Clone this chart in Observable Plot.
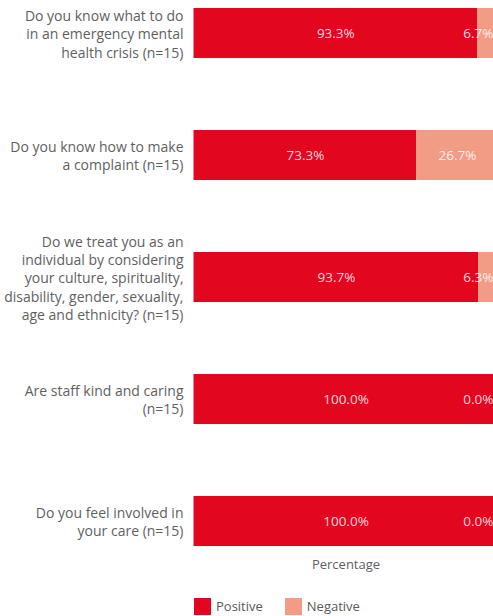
<!DOCTYPE html>
<html>
<head>
<meta charset="utf-8">
<script src="https://cdn.jsdelivr.net/npm/d3@7"></script>
<script src="https://cdn.jsdelivr.net/npm/@observablehq/plot@0.6"></script>
<style>
  body { margin: 0; background: #fff; font-family: "Open Sans", sans-serif; }
  #legend { display: flex; align-items: center; margin-left: 194px; margin-top: 13px; font-size: 13px; color: #595959; }
  .item { display: flex; align-items: center; margin-right: 22px; }
  .sw { width: 17px; height: 17px; margin-right: 5px; }
</style>
</head>
<body>
<div id="chart"></div>
<div id="legend"></div>
<script>
const questions = [
  "Do you know what to do\nin an emergency mental\nhealth crisis (n=15)",
  "Do you know how to make\na complaint (n=15)",
  "Do we treat you as an\nindividual by considering\nyour culture, spirituality,\ndisability, gender, sexuality,\nage and ethnicity? (n=15)",
  "Are staff kind and caring\n(n=15)",
  "Do you feel involved in\nyour care (n=15)"
];
const positive = [93.3, 73.3, 93.7, 100.0, 100.0];
const negative = [6.7, 26.7, 6.3, 0.0, 0.0];
const seriesNames = ["Positive", "Negative"];
const seriesColors = ["#E2061F", "#F29C85"];
const axisLabel = "Percentage";

const rows = [];
questions.forEach((q, i) => {
  rows.push({q, series: "Positive", value: positive[i], x1: 0, x2: positive[i]});
  rows.push({q, series: "Negative", value: negative[i], x1: positive[i], x2: positive[i] + negative[i]});
});
const labelsCentered = rows.filter(d => d.series === "Positive" || d.value >= 15);
const labelsEdge = rows.filter(d => d.series === "Negative" && d.value < 15);

const plot = Plot.plot({
  width: 493,
  height: 584,
  marginLeft: 193,
  marginRight: 0,
  marginTop: 8,
  marginBottom: 38,
  style: {fontFamily: "'Open Sans', sans-serif", fontSize: "13px", color: "#595959"},
  x: {domain: [0, 100], range: [193.5, 497.5], axis: null},
  y: {domain: questions, axis: null, paddingInner: 0.59, paddingOuter: 0, round: false},
  color: {domain: seriesNames, range: seriesColors},
  marks: [
    Plot.barX(rows, {y: "q", x1: "x1", x2: "x2", fill: "series"}),
    Plot.text(labelsCentered, {y: "q", x: d => (d.x1 + d.x2) / 2, text: d => d.value.toFixed(1) + "%", fill: "white", fillOpacity: 0.85, fontSize: 13.5}),
    Plot.text(labelsEdge, {y: "q", frameAnchor: "right", textAnchor: "end", text: d => d.value.toFixed(1) + "%", fill: "white", fillOpacity: 0.85, fontSize: 13.5}),
    Plot.text(questions, {y: d => d, x: 0, text: d => d, textAnchor: "end", dx: -10.5, lineHeight: 1.3, fill: "#5f5f5f", fontSize: 14}),
    Plot.text([axisLabel], {x: [50], frameAnchor: "bottom", dy: 22, fill: "#5f5f5f", fontSize: 13})
  ]
});
document.getElementById("chart").appendChild(plot);

const legend = document.getElementById("legend");
seriesNames.forEach((name, i) => {
  const item = document.createElement("div");
  item.className = "item";
  const sw = document.createElement("div");
  sw.className = "sw";
  sw.style.background = seriesColors[i];
  const lab = document.createElement("span");
  lab.textContent = name;
  item.appendChild(sw);
  item.appendChild(lab);
  legend.appendChild(item);
});
</script>
</body>
</html>
